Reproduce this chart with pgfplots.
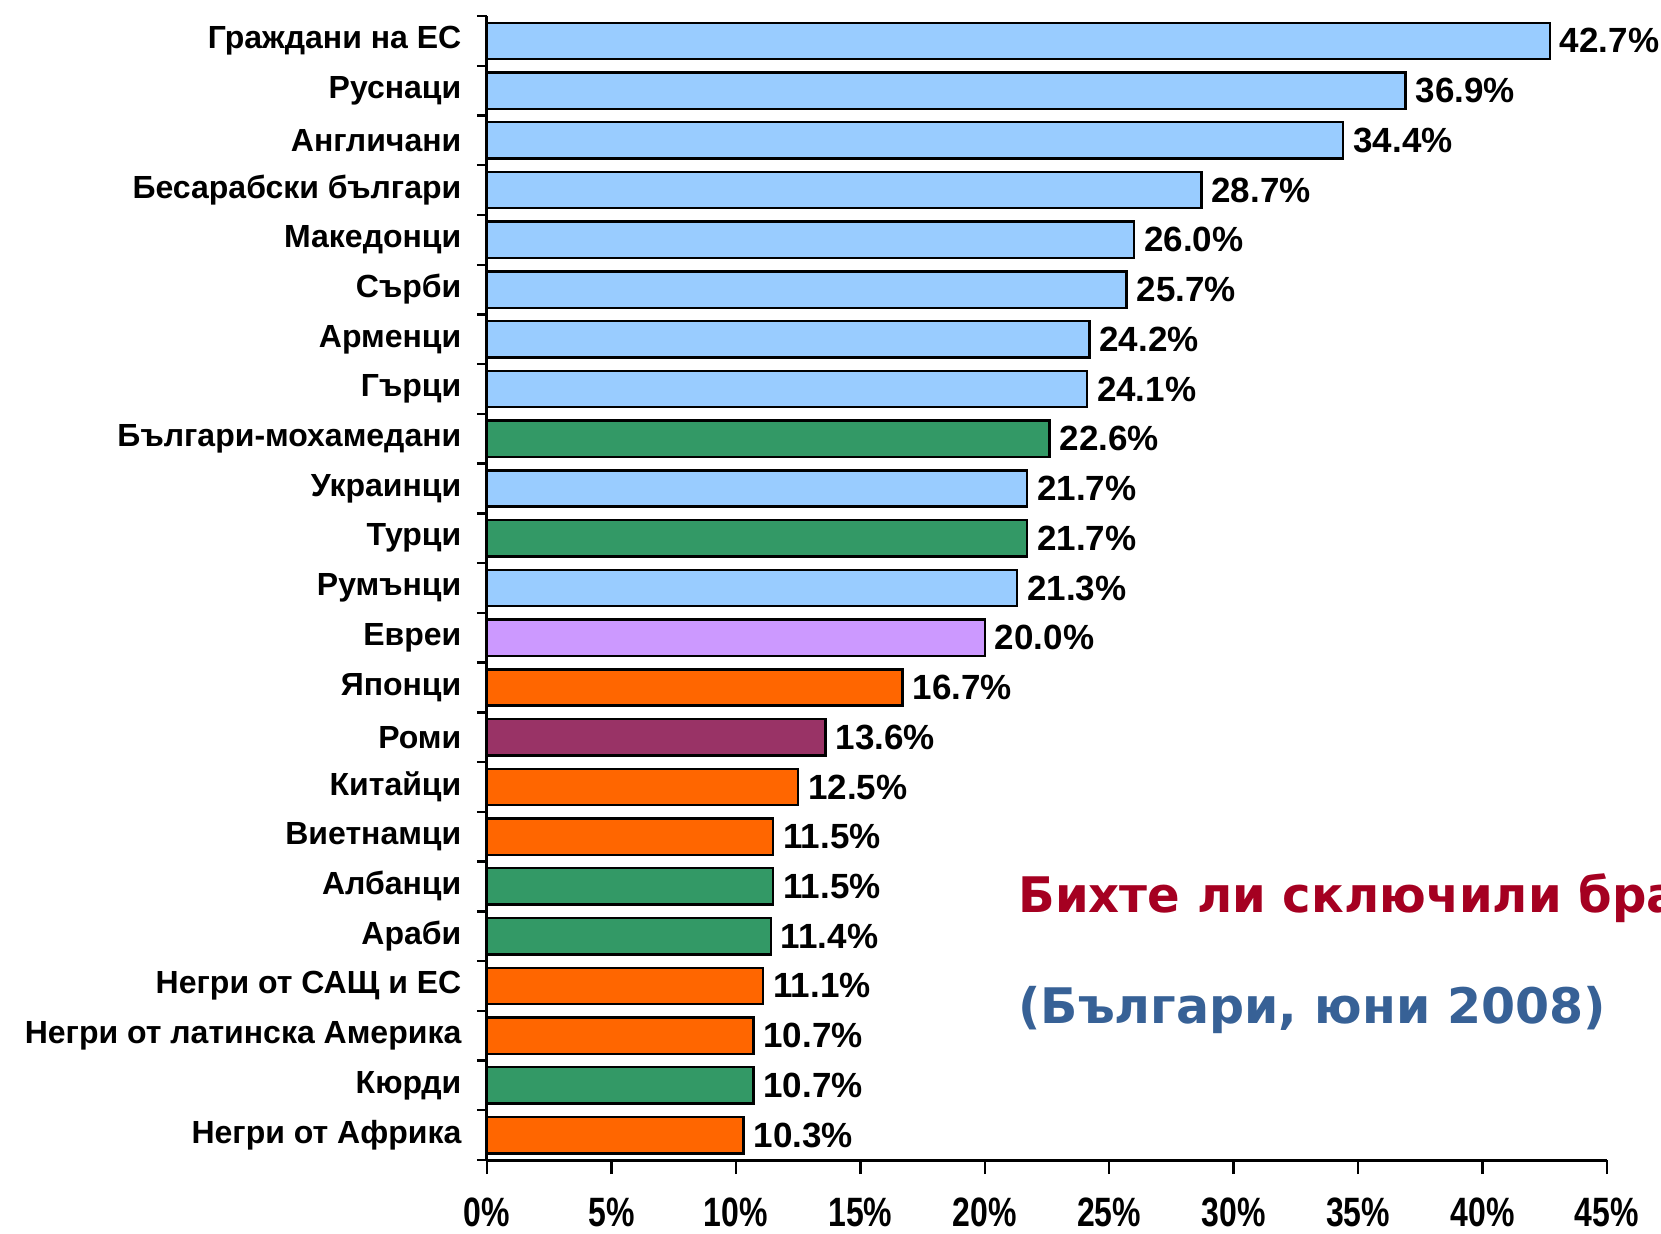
\documentclass[border=0pt]{standalone}
\usepackage{pgfplots}
\pgfplotsset{compat=1.18}
\usepackage{fontspec}
\setmainfont{Liberation Sans}
\newfontfamily\narrowfont[FakeStretch=0.78]{Liberation Sans}
\newfontfamily\dvfont{DejaVu Sans}
\definecolor{cblue}{HTML}{99CCFF}
\definecolor{cgreen}{HTML}{339966}
\definecolor{clav}{HTML}{CC99FF}
\definecolor{corange}{HTML}{FF6600}
\definecolor{croma}{HTML}{993366}
\definecolor{tred}{HTML}{A50021}
\definecolor{tblue}{HTML}{376196}
\begin{document}
\begin{tikzpicture}
\path[use as bounding box] (0,0) rectangle (830.5pt,616.5pt);
\begin{axis}[
  at={(243.5pt,36.5pt)}, anchor=south west,
  scale only axis, width=560pt, height=572pt,
  xmin=0, xmax=45, ymin=-0.5, ymax=22.5, y dir=reverse,
  axis x line*=bottom, axis y line*=left,
  axis line style={-, line width=1.5pt, black},
  clip=false,
  xtick={0,5,...,45},
  xticklabels={0\%,5\%,10\%,15\%,20\%,25\%,30\%,35\%,40\%,45\%},
  tick align=outside,
  major tick length=7pt,
  minor tick length=5pt,
  major x tick style={line width=1.2pt, black},
  major y tick style={draw=none},
  minor y tick style={line width=1.2pt, black},
  xticklabel style={font=\narrowfont\bfseries\fontsize{20.5}{20.5}\selectfont, text=black, inner sep=0pt, yshift=-11.8pt},
  ytick={0,...,22},
  minor ytick={-0.5,0.5,...,22.5},
  yticklabels={Граждани на ЕС,Руснаци,Англичани,Бесарабски българи,Македонци,Сърби,Арменци,Гърци,Българи-мохамедани,Украинци,Турци,Румънци,Евреи,Японци,Роми,Китайци,Виетнамци,Албанци,Араби,Негри от САЩ и ЕС,Негри от латинска Америка,Кюрди,Негри от Африка},
  yticklabel style={font=\bfseries\fontsize{16}{16}\selectfont, text=black, xshift=-2.3pt},
  point meta=x,
  nodes near coords={\pgfmathprintnumber[fixed,fixed zerofill,precision=1,assume math mode=true]{\pgfplotspointmeta}\%},
  every node near coord/.append style={font=\bfseries\fontsize{17.5}{17.5}\selectfont, text=black, anchor=west, inner sep=4.5pt},
  every axis plot/.append style={xbar, bar width=0.73, bar shift=0pt, draw=black, line width=1.2pt},
]
\addplot[fill=cblue] coordinates {(42.7,0) (36.9,1) (34.4,2) (28.7,3) (26.0,4) (25.7,5) (24.2,6) (24.1,7) (21.7,9) (21.3,11)};
\addplot[fill=cgreen] coordinates {(22.6,8) (21.7,10) (11.5,17) (11.4,18) (10.7,21)};
\addplot[fill=clav] coordinates {(20.0,12)};
\addplot[fill=corange] coordinates {(16.7,13) (12.5,15) (11.5,16) (11.1,19) (10.7,20) (10.3,22)};
\addplot[fill=croma] coordinates {(13.6,14)};
\end{axis}
\begin{scope}
\clip (0,0) rectangle (830.5pt,616.5pt);
\node[anchor=base west, inner sep=0pt, text=tred, font=\dvfont\bfseries\fontsize{24.5}{24.5}\selectfont] at (509pt,160.5pt) {\scalebox{0.982}[1]{Бихте ли сключили бра}};
\node[anchor=base west, inner sep=0pt, text=tblue, font=\dvfont\bfseries\fontsize{24.5}{24.5}\selectfont] at (509pt,105pt) {(Българи, юни 2008)};
\end{scope}
\end{tikzpicture}
\end{document}
